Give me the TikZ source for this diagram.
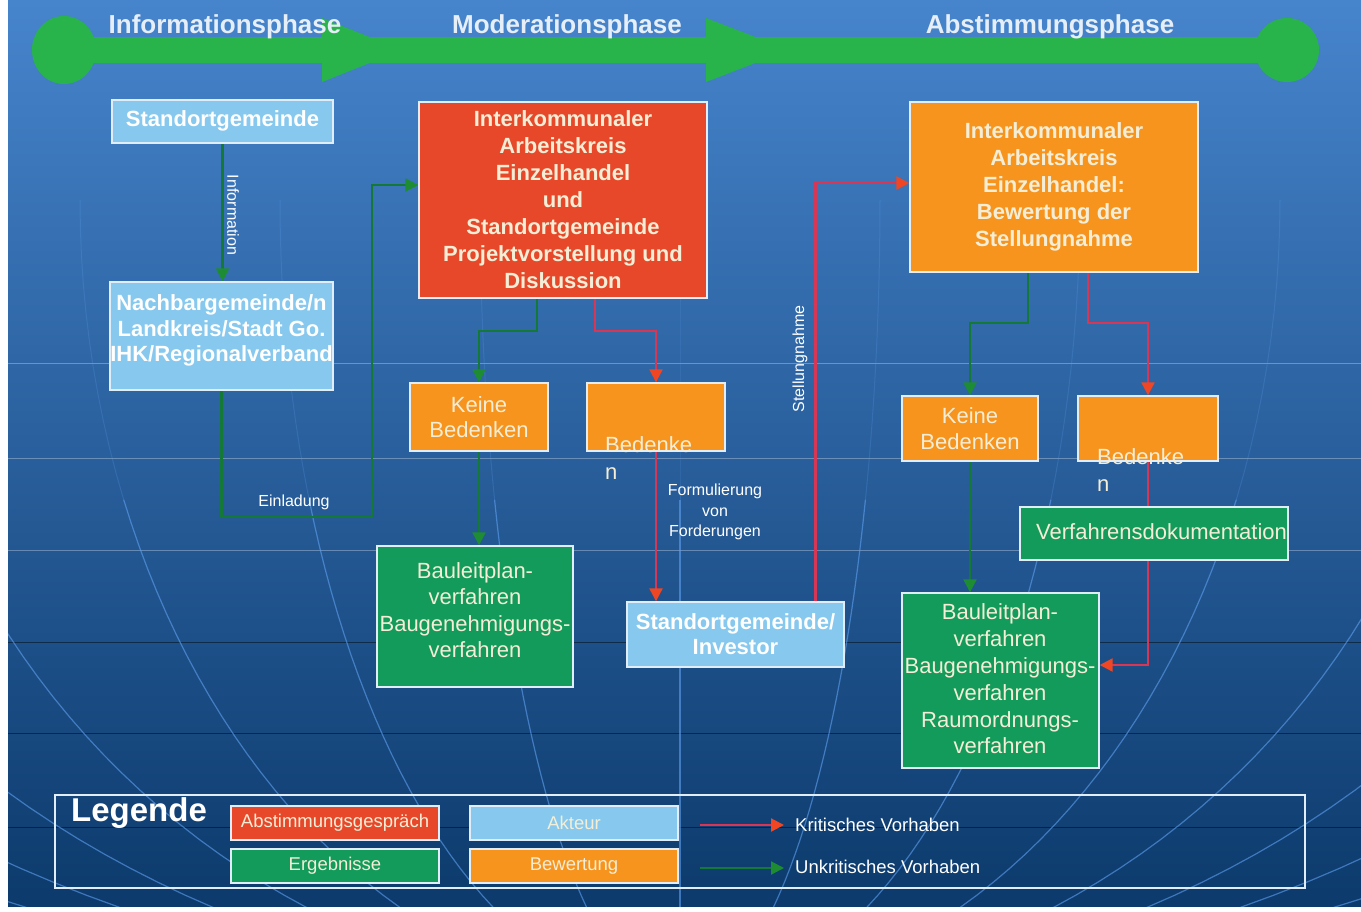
\documentclass[tikz,border=0pt]{standalone}
\usepackage{fontspec}
\setmainfont{Liberation Sans}
\usetikzlibrary{arrows.meta,calc}
\pgfdeclarelayer{back}
\pgfdeclarelayer{lines}
\pgfsetlayers{back,lines,main}
\definecolor{bgtop}{RGB}{70,132,204}
\definecolor{bgmid}{RGB}{28,96,180}
\definecolor{bgbot}{RGB}{12,58,108}
\definecolor{lblue}{RGB}{134,200,238}
\definecolor{rbox}{RGB}{232,72,42}
\definecolor{obox}{RGB}{247,148,30}
\definecolor{gbox}{RGB}{18,155,90}
\definecolor{bargreen}{RGB}{40,180,75}
\definecolor{lgreen}{RGB}{20,120,55}
\definecolor{lred}{RGB}{215,55,85}
\definecolor{tred}{RGB}{240,70,35}
\definecolor{tgreen}{RGB}{30,140,50}
\definecolor{cream}{RGB}{245,238,215}
\definecolor{boxedge}{RGB}{225,238,250}
\definecolor{phasetext}{RGB}{230,238,248}
\definecolor{meridian}{RGB}{95,160,240}
\begin{document}
\begin{tikzpicture}[x=1pt,y=-1pt,
  box/.style={draw=boxedge, line width=1.4pt, inner sep=0pt, align=center},
  bt/.style={font=\bfseries\fontsize{22}{27}\selectfont, text=white, align=center, inner sep=0pt},
  nt/.style={font=\fontsize{22}{26.5}\selectfont, text=cream, align=center, inner sep=0pt},
  ntl/.style={font=\fontsize{22}{27}\selectfont, text=cream, align=left, inner sep=0pt, anchor=west},
  phase/.style={font=\bfseries\fontsize{26}{30}\selectfont, text=phasetext, inner sep=0pt},
  elab/.style={font=\fontsize{16}{20.5}\selectfont, text=white, inner sep=0pt, align=center},
  gline/.style={draw=lgreen, line width=2.2pt, -{Triangle[length=13pt,width=13pt,color=tgreen]}},
  rline/.style={draw=lred, line width=2.2pt, -{Triangle[length=13pt,width=13pt,color=tred]}},
  lbox/.style={draw=boxedge, line width=1.2pt, inner sep=0pt, minimum width=208pt, minimum height=34pt, font=\fontsize{18.5}{22}\selectfont, text=cream},
  ltext/.style={font=\fontsize{18.5}{22}\selectfont, text=white, inner sep=0pt, anchor=west}
]
\useasboundingbox (0,0) rectangle (1361,911);
\begin{pgfonlayer}{back}
  \fill[white] (0,0) rectangle (1361,911);
  \shade[top color=bgtop, middle color=bgmid, bottom color=bgbot] (8,0) rectangle (1361,906);
  \begin{scope}
    \clip (8,0) rectangle (1361,906);
    \foreach \yy in {363,458,550} \draw[white, opacity=0.3, line width=1pt] (8,\yy) -- (1361,\yy);
    \foreach \yy in {642,733,827} \draw[black, opacity=0.45, line width=1pt] (8,\yy) -- (1361,\yy);
    \foreach \aa in {-1400,-1200,...,1400} {
      \draw[meridian, opacity=0.22, line width=1pt, variable=\t, domain=0:22, samples=12]
        plot ({680+\aa*cos(\t)}, {200+800*sin(\t)});
      \draw[meridian, opacity=0.6, line width=1.2pt, variable=\t, domain=22:64, samples=24]
        plot ({680+\aa*cos(\t)}, {200+800*sin(\t)});
    }
  \end{scope}
\end{pgfonlayer}

% top phase bar
\fill[bargreen] (64,37) rectangle (1287,63);
\fill[bargreen] (64,50) ellipse [x radius=32, y radius=34];
\fill[bargreen] (1287,50) circle [radius=32];
\fill[bargreen] (322,18) -- (322,82) -- (402,50) -- cycle;
\fill[bargreen] (706,18) -- (706,82) -- (789,50) -- cycle;
\node[phase] (ph1) at (225,27) {Informationsphase};
\node[phase] (ph2) at (567,27) {Moderationsphase};
\node[phase] (ph3) at (1050,27) {Abstimmungsphase};

% boxes
\node[box, fill=lblue, minimum width=221pt, minimum height=43pt] (sg) at (222.5,121.5) {};
\node[bt] (sgt) at (222.5,121) {Standortgemeinde};

\node[box, fill=lblue, minimum width=223pt, minimum height=108pt] (nb) at (221.5,336) {};
\node[bt, font=\bfseries\fontsize{22}{25.5}\selectfont] (nbt) at (221.5,330.5) {Nachbargemeinde/n\\Landkreis/Stadt Go.\\IHK/Regionalverband};

\node[box, fill=rbox, minimum width=288pt, minimum height=196pt, text=cream, font=\bfseries\fontsize{22}{27}\selectfont] (rb) at (563,200)
  {Interkommunaler\\Arbeitskreis\\Einzelhandel\\und\\Standortgemeinde\\Projektvorstellung und\\Diskussion};

\node[box, fill=obox, minimum width=288pt, minimum height=170pt, text=cream, font=\bfseries\fontsize{22}{27}\selectfont] (ob) at (1054,187)
  {Interkommunaler\\Arbeitskreis\\Einzelhandel:\\Bewertung der\\Stellungnahme};

\node[box, fill=obox, minimum width=138pt, minimum height=68pt, text=cream, font=\fontsize{22}{25.5}\selectfont] (kb1) at (479,417) {Keine\\Bedenken};
\node[box, fill=obox, minimum width=138pt, minimum height=68pt] (bd1) at (656,417) {};
\node[ntl] (bd1t) at (605,458.5) {Bedenke\\n};

\node[box, fill=gbox, minimum width=196pt, minimum height=141pt] (gr1) at (475,616.5) {};
\node[nt] (gr1t) at (475,610) {Bauleitplan-\\verfahren\\Baugenehmigungs-\\verfahren};

\node[box, fill=lblue, minimum width=217pt, minimum height=65pt, text=white, font=\bfseries\fontsize{22}{25}\selectfont] (inv) at (735.5,634.5) {Standortgemeinde/\\Investor};

\node[box, fill=obox, minimum width=136pt, minimum height=65pt, text=cream, font=\fontsize{22}{26}\selectfont] (kb2) at (970,428.5) {Keine\\Bedenken};
\node[box, fill=obox, minimum width=140pt, minimum height=65pt] (bd2) at (1148,428.5) {};
\node[ntl] (bd2t) at (1097,470) {Bedenke\\n};

\node[box, fill=gbox, minimum width=268pt, minimum height=53pt] (verf) at (1154,533.5) {};
\node[ntl] (verft) at (1036,532) {Verfahrensdokumentation};

\node[box, fill=gbox, minimum width=197pt, minimum height=175pt] (gr2) at (1000.5,680.5) {};
\node[nt, font=\fontsize{22}{26.8}\selectfont] (gr2t) at (1000,679) {Bauleitplan-\\verfahren\\Baugenehmigungs-\\verfahren\\Raumordnungs-\\verfahren};

% edge labels
\node[elab, rotate=-90] (linfo) at (233,215) {Information};
\node[elab] (lein) at (294,502) {Einladung};
\node[elab] (lform) at (715,512) {Formulierung\\von\\Forderungen};
\node[elab, rotate=90] (lstell) at (800,359) {Stellungnahme};

% connectors
\coordinate (c1) at (372,517);
\begin{pgfonlayer}{lines}
  \draw[gline] (sg.south) -- (sg.south |- nb.north);
  \draw[gline] (nb.south) |- (c1) |- ([yshift=15pt]rb.west);
  \draw[gline] ([xshift=-26pt]rb.south) -- ++(0,32) -| (kb1.north);
  \draw[rline] ([xshift=32pt]rb.south) -- ++(0,32) -| (bd1.north);
  \draw[gline] (kb1.south) -- (kb1.south |- gr1.north);
  \draw[rline] (bd1.south) -- (bd1.south |- inv.north);
  \draw[rline] ([xshift=80pt]inv.north) |- ([yshift=4pt]ob.west);
  \draw[gline] ([xshift=-26pt]ob.south) -- ++(0,50) -| (kb2.north);
  \draw[rline] ([xshift=34pt]ob.south) -- ++(0,50) -| (bd2.north);
  \draw[gline] (kb2.south) -- (kb2.south |- gr2.north);
  \draw[rline] (bd2.south) |- ([yshift=15.5pt]gr2.east);
\end{pgfonlayer}

% legend
\node[draw=boxedge, line width=2.5pt, minimum width=1250pt, minimum height=93pt, inner sep=0pt] (leg) at (680,841.5) {};
\node[font=\bfseries\fontsize{33}{36}\selectfont, text=white, inner sep=0pt] (legt) at (139,813) {Legende};
\node[lbox, fill=rbox] (lab) at (335,823) {Abstimmungsgespräch};
\node[lbox, fill=lblue] (lak) at (574,823) {Akteur};
\node[lbox, fill=gbox] (ler) at (335,866) {Ergebnisse};
\node[lbox, fill=obox] (lbw) at (574,866) {Bewertung};
\coordinate (k1) at (700,825);
\coordinate (k2) at (784,825);
\coordinate (u1) at (700,868);
\coordinate (u2) at (784,868);
\draw[rline] (k1) -- (k2);
\draw[gline] (u1) -- (u2);
\node[ltext] (kt) at (795,825) {Kritisches Vorhaben};
\node[ltext] (ut) at (795,867) {Unkritisches Vorhaben};
\end{tikzpicture}
\end{document}
